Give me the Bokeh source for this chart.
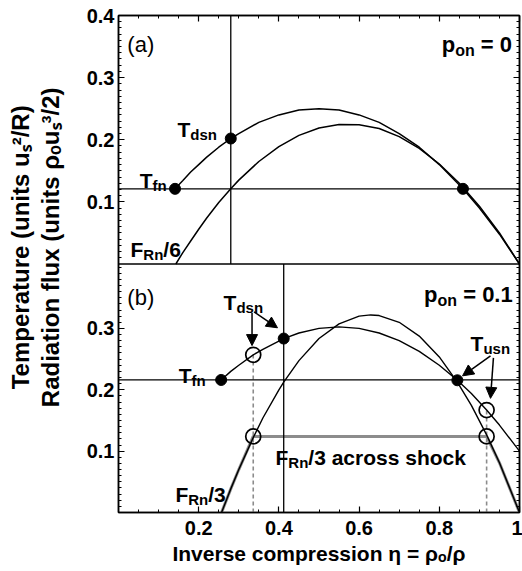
import math
from bokeh.plotting import figure
from bokeh.models import (Range1d, LinearAxis, FixedTicker, CustomJSTickFormatter,
                          Label, Arrow, NormalHead, Span)
from bokeh.embed import file_html
from bokeh.resources import INLINE

# ---------------- data ----------------
# panel (a): p_on = 0
eta_T_a = [0.141, 0.16, 0.18, 0.2, 0.22, 0.25, 0.28, 0.3, 0.35, 0.4, 0.45, 0.5,
           0.55, 0.6, 0.65, 0.7, 0.75, 0.8, 0.859, 0.9, 0.95, 1.0]
T_a = [0.121, 0.134, 0.148, 0.160, 0.172, 0.188, 0.202, 0.210, 0.228, 0.240, 0.248, 0.250,
       0.248, 0.240, 0.228, 0.210, 0.188, 0.160, 0.121, 0.090, 0.048, 0.0]
eta_F_a = [0.143, 0.16, 0.18, 0.2, 0.22, 0.25, 0.28, 0.3, 0.35, 0.4, 0.45, 0.5,
           0.55, 0.6, 0.65, 0.7, 0.75, 0.8, 0.85, 0.9, 0.95, 1.0]
F_a = [0.0, 0.018, 0.037, 0.056, 0.074, 0.099, 0.121, 0.135, 0.165, 0.189, 0.207, 0.219,
       0.2245, 0.224, 0.218, 0.205, 0.186, 0.161, 0.130, 0.093, 0.050, 0.0]   # F_Rn/6
T_fn_a = 0.121
eta_dsn_a = 0.28
dots_a_eta = [0.141, 0.28, 0.859]
dots_a_val = [0.121, 0.202, 0.121]

# panel (b): p_on = 0.1
eta_T_b = [0.256, 0.28, 0.3, 0.336, 0.36, 0.412, 0.45, 0.5, 0.55, 0.6, 0.65, 0.7,
           0.75, 0.8, 0.845, 0.88, 0.918, 0.95, 1.0]
T_b = [0.216, 0.230, 0.240, 0.257, 0.266, 0.2835, 0.2925, 0.300, 0.3025, 0.300, 0.2925,
       0.280, 0.2625, 0.240, 0.2155, 0.194, 0.167, 0.1425, 0.100]
eta_F_b = [0.257, 0.28, 0.3, 0.336, 0.36, 0.4, 0.412, 0.45, 0.5, 0.55, 0.6, 0.629,
           0.65, 0.7, 0.75, 0.8, 0.845, 0.88, 0.918, 0.95, 1.0]
F_b = [0.0, 0.0385, 0.070, 0.122, 0.154, 0.200, 0.2125, 0.2475, 0.2835, 0.3075, 0.320,
       0.322, 0.321, 0.310, 0.2875, 0.2535, 0.2125, 0.1745, 0.1265, 0.081, 0.0]   # F_Rn/3
eta_G_b = [0.257, 0.28, 0.3, 0.336, 0.918, 0.95, 1.0]
G_b = [0.0, 0.0385, 0.070, 0.124, 0.124, 0.081, 0.0]   # F_Rn/3 across shock
T_fn_b = 0.216
eta_dsn_b = 0.412
dots_b_eta = [0.256, 0.412, 0.845]
dots_b_val = [0.216, 0.2835, 0.2155]
open_b_eta = [0.336, 0.336, 0.918, 0.918]
open_b_val = [0.257, 0.124, 0.167, 0.124]
dash_b_eta = [0.336, 0.918]
dash_b_top = [0.257, 0.167]

x_ticks = [0.2, 0.4, 0.6, 0.8, 1.0]
x_tick_labels = ["0.2", "0.4", "0.6", "0.8", "1"]
y_ticks_a = [0.1, 0.2, 0.3, 0.4]
y_ticks_b = [0.1, 0.2, 0.3]

x_title = "Inverse compression η = ρₒ/ρ"
y_title_1 = "Temperature (units uₛ²/R)"
y_title_2 = "Radiation flux (units ρₒuₛ³/2)"

# ---------------- layout / ranges ----------------
FONT = "Liberation Sans"
A_MAX = 0.4          # panel (a) y extent
B_MAX = 0.405        # panel (b) y extent
BOT = (0.0, 2 * B_MAX)          # default range: panel (b) in lower half
TOP = (-A_MAX, A_MAX)           # panel (a) in upper half
NB = "\u00a0" * 5               # lifts the centred y titles slightly


def to_bot(v):
    return (v - TOP[0]) / (TOP[1] - TOP[0]) * (BOT[1] - BOT[0]) + BOT[0]


p = figure(width=522, height=571, x_range=Range1d(0, 1), y_range=Range1d(*BOT),
           output_backend="svg", toolbar_location=None,
           min_border_left=118, min_border_right=3, min_border_top=15, min_border_bottom=59)
p.extra_y_ranges = {"top": Range1d(*TOP)}
p.xgrid.visible = False
p.ygrid.visible = False
p.outline_line_color = "black"
p.outline_line_width = 1.5
p.background_fill_color = "white"
p.border_fill_color = "white"


def style_axis(ax, labels=True):
    ax.axis_line_color = "black"
    ax.axis_line_width = 1.5
    ax.major_tick_in = 6
    ax.major_tick_out = 0
    ax.minor_tick_in = 3
    ax.minor_tick_out = 0
    ax.major_tick_line_color = "black"
    ax.minor_tick_line_color = "black"
    ax.major_tick_line_width = 1.2
    ax.minor_tick_line_width = 1
    ax.major_label_text_font = FONT
    ax.major_label_text_font_style = "bold"
    ax.major_label_text_font_size = "20px"
    ax.major_label_text_color = "black"
    ax.axis_label_text_font = FONT
    ax.axis_label_text_font_style = "bold"
    ax.axis_label_text_color = "black"
    if not labels:
        ax.major_label_standoff = 0


x_minor = [round(0.05 * i, 2) for i in range(1, 20)]
x_ticker = FixedTicker(ticks=x_ticks, minor_ticks=x_minor)
x_fmt = CustomJSTickFormatter(args=dict(t=x_ticks, l=x_tick_labels),
                              code="const i = t.findIndex(v => Math.abs(v - tick) < 1e-6); return i >= 0 ? l[i] : '';")

y_pos = list(y_ticks_b) + [to_bot(v) for v in y_ticks_a]
y_lab = [f"{v:.1f}" for v in y_ticks_b] + [f"{v:.1f}" for v in y_ticks_a]
y_minor = [round(0.01 * i, 3) for i in range(1, 41)] + [to_bot(0.01 * i) for i in range(1, 40)]
y_ticker = FixedTicker(ticks=y_pos, minor_ticks=y_minor)
y_fmt = CustomJSTickFormatter(args=dict(t=y_pos, l=y_lab),
                              code="const i = t.findIndex(v => Math.abs(v - tick) < 1e-6); return i >= 0 ? l[i] : '';")
empty_fmt = CustomJSTickFormatter(code="return '';")

style_axis(p.xaxis[0])
p.xaxis.ticker = x_ticker
p.xaxis.formatter = x_fmt
p.xaxis.major_label_standoff = 8
p.xaxis.axis_label = x_title
p.xaxis.axis_label_text_font_size = "21px"
p.xaxis.axis_label_standoff = 4

style_axis(p.yaxis[0])
p.yaxis.ticker = y_ticker
p.yaxis.formatter = y_fmt
p.yaxis.major_label_standoff = 4
p.yaxis.axis_label = NB + y_title_2
p.yaxis.axis_label_text_font_size = "24px"
p.yaxis.axis_label_standoff = 20

# outer left axis that only carries the first line of the y title
ax_outer = LinearAxis(ticker=FixedTicker(ticks=[]), formatter=empty_fmt,
                      axis_label=NB + y_title_1)
style_axis(ax_outer, labels=False)
ax_outer.axis_line_color = None
ax_outer.major_tick_line_color = None
ax_outer.minor_tick_line_color = None
ax_outer.axis_label_text_font_size = "24px"
ax_outer.axis_label_standoff = 0
p.add_layout(ax_outer, "left")

ax_top = LinearAxis(ticker=x_ticker, formatter=empty_fmt)
style_axis(ax_top, labels=False)
p.add_layout(ax_top, "above")
ax_right = LinearAxis(ticker=y_ticker, formatter=empty_fmt)
style_axis(ax_right, labels=False)
p.add_layout(ax_right, "right")

# panel separator
p.add_layout(Span(location=B_MAX, dimension="width", line_color="black", line_width=1.5))

# ---------------- panel (a) ----------------
p.add_layout(Span(location=T_fn_a, dimension="width", line_color="black", line_width=1.3,
                  y_range_name="top"))
p.segment(x0=[eta_dsn_a], y0=[0], x1=[eta_dsn_a], y1=[A_MAX], line_color="black",
          line_width=1.3, y_range_name="top")
p.line(eta_F_a, F_a, line_color="black", line_width=1.5, y_range_name="top")
p.line(eta_T_a, T_a, line_color="black", line_width=1.5, y_range_name="top")
p.scatter(dots_a_eta, dots_a_val, size=11, color="black", y_range_name="top")

# ---------------- panel (b) ----------------
p.line(eta_G_b, G_b, line_color="#8c8c8c", line_width=3)
p.add_layout(Span(location=T_fn_b, dimension="width", line_color="black", line_width=1.3))
p.segment(x0=[eta_dsn_b], y0=[0], x1=[eta_dsn_b], y1=[B_MAX], line_color="black", line_width=1.3)
p.segment(x0=dash_b_eta, y0=[0, 0], x1=dash_b_eta, y1=dash_b_top, line_color="#8c8c8c",
          line_width=1.6, line_dash="4 3")
p.line(eta_F_b, F_b, line_color="black", line_width=1.4)
p.line(eta_T_b, T_b, line_color="black", line_width=1.4)
p.scatter(dots_b_eta, dots_b_val, size=11, color="black")
p.scatter(open_b_eta, open_b_val, size=15, fill_alpha=0, line_color="black", line_width=1.7)

# ---------------- text ----------------
W = {' ': 278, '(': 333, ')': 333, '.': 278, '/': 278, '=': 584, 'F': 611, 'R': 722, 'T': 611,
     'I': 278, 'a': 556, 'c': 556, 'd': 611, 'e': 556, 'f': 333, 'h': 611, 'i': 278, 'k': 556,
     'l': 278, 'm': 889, 'n': 611, 'o': 611, 'p': 611, 'r': 389, 's': 556, 't': 333, 'u': 611,
     'v': 556, 'x': 556}


def tw(s, size):
    return sum(W.get(c, 556) for c in s) * size / 1000.0


def compound(pieces, x, y, yr="default"):
    """pieces: (text, size, shift_up_px); laid out left to right."""
    pos = 0.0
    for text, size, shift in pieces:
        lead = len(text) - len(text.lstrip(" "))
        pos += tw(" " * lead, size)
        body = text.lstrip(" ")
        p.add_layout(Label(x=x, y=y, text=body, x_offset=pos, y_offset=shift,
                           y_range_name=yr, text_font=FONT, text_font_size=f"{size}px",
                           text_font_style="bold", text_color="black",
                           text_baseline="alphabetic", text_align="left"))
        pos += tw(body, size)


def sub_label(main, sub, x, y, yr="default", tail="", size=21, ssize=15):
    pcs = [(main, size, 0), (sub, ssize, -5)]
    if tail:
        pcs.append((tail, size, 0))
    compound(pcs, x, y, yr)


# panel (a) texts
p.add_layout(Label(x=0.022, y=0.353, text="(a)", y_range_name="top", text_font=FONT,
                   text_font_size="22px", text_color="black", text_baseline="alphabetic"))
compound([("p", 22, 0), ("on", 16, -6), (" = 0", 22, 0)], 0.806, 0.354, "top")
sub_label("T", "dsn", 0.147, 0.217, "top")
sub_label("T", "fn", 0.053, 0.134, "top")
sub_label("F", "Rn", 0.030, 0.024, "top", tail="/6")

# panel (b) texts
p.add_layout(Label(x=0.022, y=0.350, text="(b)", text_font=FONT,
                   text_font_size="22px", text_color="black", text_baseline="alphabetic"))
compound([("p", 22, 0), ("on", 16, -6), (" = 0.1", 22, 0)], 0.762, 0.355)
sub_label("T", "dsn", 0.262, 0.342)
sub_label("T", "fn", 0.150, 0.223)
sub_label("T", "usn", 0.878, 0.275)
sub_label("F", "Rn", 0.3915, 0.089, tail="/3 across shock")
sub_label("F", "Rn", 0.142, 0.030, tail="/3")

# arrows (label -> marked point)
head = dict(size=11, fill_color="black", line_color="black")
for xs, ys, xe, ye in [(0.333, 0.325, 0.333, 0.272),
                       (0.338, 0.327, 0.3965, 0.301),
                       (0.9277, 0.2553, 0.858, 0.2227),
                       (0.935, 0.252, 0.9277, 0.186)]:
    p.add_layout(Arrow(end=NormalHead(**head), x_start=xs, y_start=ys, x_end=xe, y_end=ye,
                       line_color="black", line_width=1.5))

open("out.html", "w").write(file_html(p, INLINE))
